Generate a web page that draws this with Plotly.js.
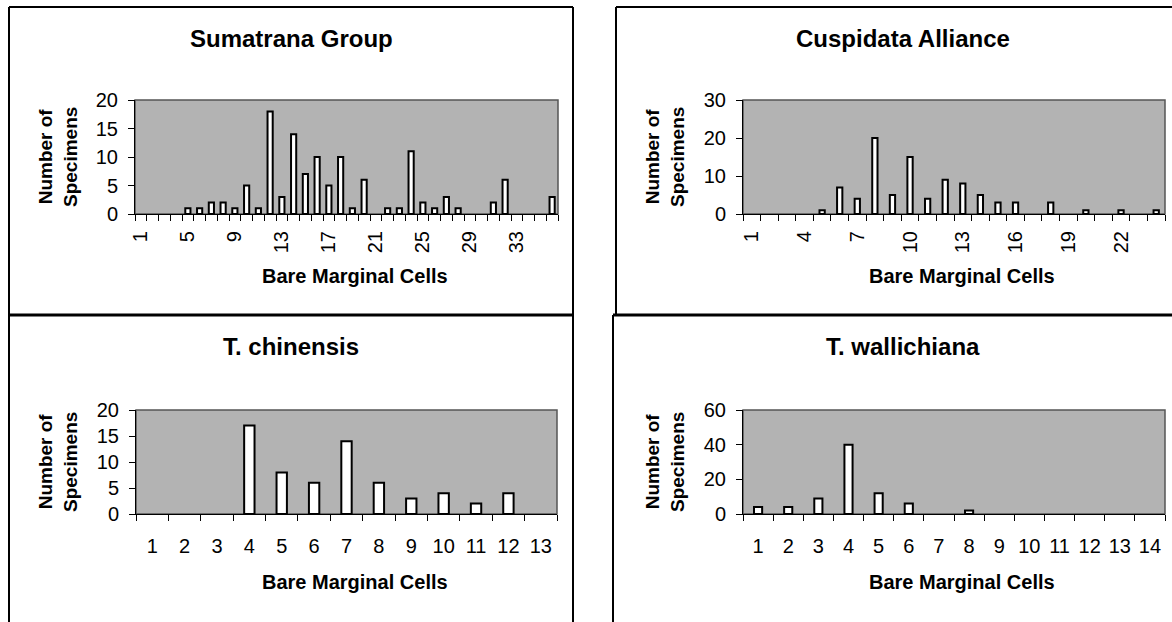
<!DOCTYPE html>
<html>
<head>
<meta charset="utf-8">
<script src="https://cdn.plot.ly/plotly-3.0.1.min.js"></script>
<style>html,body{margin:0;padding:0;background:#fff;}#chart{width:1172px;height:622px;}</style>
</head>
<body>
<div id="chart"></div>
<script>
// ---- Data ----
const sumatranaCells = [1,2,3,4,5,6,7,8,9,10,11,12,13,14,15,16,17,18,19,20,21,22,23,24,25,26,27,28,29,30,31,32,33,34,35,36];
const sumatranaCounts = [0,0,0,0,1,1,2,2,1,5,1,18,3,14,7,10,5,10,1,6,0,1,1,11,2,1,3,1,0,0,2,6,0,0,0,3];
const sumatranaTickLabels = [1,5,9,13,17,21,25,29,33];

const cuspidataCells = [1,2,3,4,5,6,7,8,9,10,11,12,13,14,15,16,17,18,19,20,21,22,23,24];
const cuspidataCounts = [0,0,0,0,1,7,4,20,5,15,4,9,8,5,3,3,0,3,0,1,0,1,0,1];
const cuspidataTickLabels = [1,4,7,10,13,16,19,22];

const chinensisCells = [1,2,3,4,5,6,7,8,9,10,11,12,13];
const chinensisCounts = [0,0,0,17,8,6,14,6,3,4,2,4,0];

const wallichianaCells = [1,2,3,4,5,6,7,8,9,10,11,12,13,14];
const wallichianaCounts = [4,4,9,40,12,6,0,2,0,0,0,0,0,0];

const panelTitles = ["Sumatrana Group","Cuspidata Alliance","T. chinensis","T. wallichiana"];
const xTitle = "Bare Marginal Cells";
const yTitle = "Number of<br>Specimens";

// ---- Layout helpers ----
const W = 1172, H = 622;
const px = x => x / W;
const py = y => 1 - y / H;
const FONT = '"Liberation Sans", Arial, Helvetica, sans-serif';

const panels = [
  {x: sumatranaCells, y: sumatranaCounts, ticks: sumatranaTickLabels, ymax: 20, dy: 5, angle: -90,
   box: [135, 558, 100, 214], bw: 0.44, title: [291, 38], ytl: 58, xt: 276},
  {x: cuspidataCells, y: cuspidataCounts, ticks: cuspidataTickLabels, ymax: 30, dy: 10, angle: -90,
   box: [743, 1165, 100, 214], bw: 0.3, title: [903, 38], ytl: 665, xt: 276},
  {x: chinensisCells, y: chinensisCounts, ticks: chinensisCells, ymax: 20, dy: 5, angle: 0,
   box: [136, 557, 410, 514], bw: 0.32, title: [291, 346], ytl: 58, xt: 582},
  {x: wallichianaCells, y: wallichianaCounts, ticks: wallichianaCells, ymax: 60, dy: 20, angle: 0,
   box: [743, 1165, 410, 514], bw: 0.27, title: [903, 346], ytl: 665, xt: 582}
];

const traces = [];
const layout = {
  width: W, height: H,
  margin: {l: 0, r: 0, t: 0, b: 0},
  paper_bgcolor: '#ffffff',
  plot_bgcolor: '#b3b3b3',
  showlegend: false,
  font: {family: FONT, size: 20, color: '#000'},
  annotations: [],
  shapes: []
};

panels.forEach((p, i) => {
  const n = i + 1;
  const xa = n === 1 ? 'x' : 'x' + n;
  const ya = n === 1 ? 'y' : 'y' + n;
  traces.push({
    type: 'bar', x: p.x, y: p.y.map(v => (v === 0 ? null : v)), xaxis: xa, yaxis: ya, width: p.bw,
    marker: {color: '#ffffff', line: {color: '#000000', width: 2}},
    hoverinfo: 'x+y'
  });
  const [l, r, t, b] = p.box;
  layout['xaxis' + (n === 1 ? '' : n)] = {
    domain: [px(l), px(r)], anchor: ya,
    range: [0.5, p.x.length + 0.5],
    tickmode: 'array', tickvals: p.ticks, ticktext: p.ticks.map(String),
    ticks: '', tickangle: p.angle,
    ticklabelstandoff: p.angle ? 8 : 14,
    tickfont: {family: FONT, size: 20, color: '#000'},
    showline: true, linecolor: '#000', linewidth: 1,
    showgrid: false, zeroline: false, fixedrange: true,
    minor: {tickmode: 'linear', tick0: 0.5, dtick: 1, ticks: 'outside', ticklen: 6, tickcolor: '#000', tickwidth: 1, showgrid: false}
  };
  layout['yaxis' + (n === 1 ? '' : n)] = {
    domain: [py(b), py(t)], anchor: xa,
    range: [0, p.ymax], dtick: p.dy, tick0: 0,
    ticks: 'outside', ticklen: 6, tickcolor: '#000', tickwidth: 1,
    ticklabelstandoff: 6,
    tickfont: {family: FONT, size: 20, color: '#000'},
    showline: true, linecolor: '#000', linewidth: 1,
    showgrid: false, zeroline: false, fixedrange: true
  };
  // plot-area border (top/right)
  layout.shapes.push({type: 'rect', xref: 'paper', yref: 'paper',
    x0: px(l), x1: px(r), y0: py(b), y1: py(t),
    line: {color: '#555555', width: 1.5}, layer: 'below'});
  // titles
  layout.annotations.push({xref: 'paper', yref: 'paper', x: px(p.title[0]), y: py(p.title[1]),
    xanchor: 'center', yanchor: 'middle', showarrow: false, text: '<b>' + panelTitles[i] + '</b>',
    font: {family: FONT, size: 24, color: '#000'}});
  layout.annotations.push({xref: 'paper', yref: 'paper', x: px(p.ytl), y: py((t + b) / 2),
    xanchor: 'center', yanchor: 'middle', showarrow: false, textangle: -90, text: '<b>' + yTitle + '</b>',
    font: {family: FONT, size: 19, color: '#000'}});
  layout.annotations.push({xref: 'paper', yref: 'paper', x: px((l + r) / 2 + 8), y: py(p.xt),
    xanchor: 'center', yanchor: 'middle', showarrow: false, text: '<b>' + xTitle + '</b>',
    font: {family: FONT, size: 20, color: '#000'}});
});

// panel borders
const line = (x0, y0, x1, y1, w) => ({type: 'line', xref: 'paper', yref: 'paper',
  x0: px(x0), y0: py(y0), x1: px(x1), y1: py(y1), line: {color: '#000', width: w}});
layout.shapes.push(
  line(9, 7, 573, 7, 2), line(9, 7, 9, 640, 2), line(573, 7, 573, 640, 2),
  line(616, 7, 1180, 7, 2), line(616, 7, 616, 315, 2), line(613, 315, 613, 640, 2),
  line(9, 315, 573, 315, 3), line(613, 315, 1180, 315, 3)
);

Plotly.newPlot('chart', traces, layout, {displayModeBar: false, staticPlot: true});
</script>
</body>
</html>
